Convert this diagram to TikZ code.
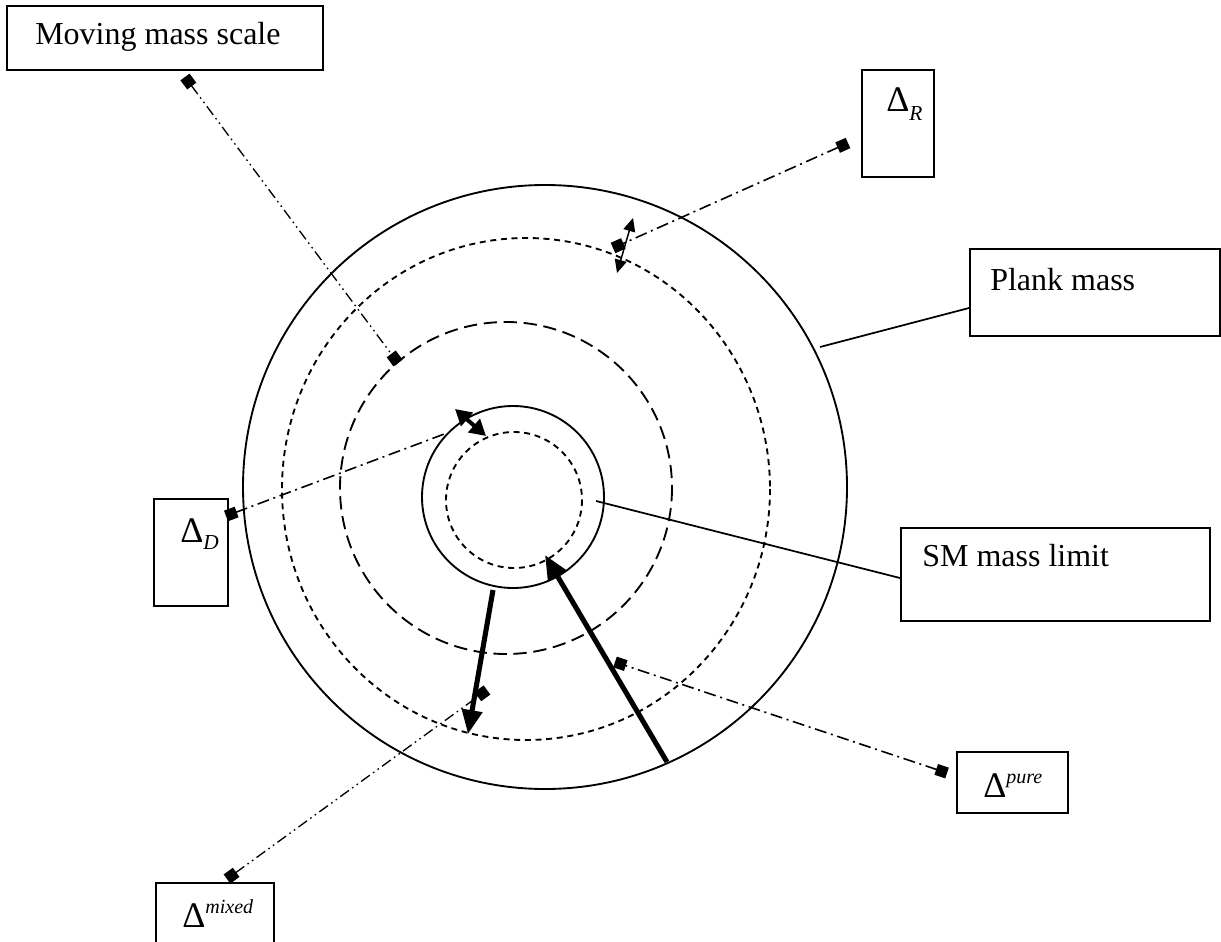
\documentclass[tikz,border=0pt]{standalone}
\usepackage{fontspec}
\setmainfont{Liberation Serif}
\usetikzlibrary{arrows.meta}
\begin{document}
\begin{tikzpicture}[x=0.75pt,y=-0.75pt,
  box/.style={draw,line width=1.5pt,inner sep=0pt,anchor=north west},
  lbl/.style={anchor=base west,inner sep=0pt,font=\fontsize{24}{28}\selectfont},
  ring/.style={line width=1.4pt},
  shortdash/.style={ring,dash pattern=on 4.5pt off 3.5pt},
  longdash/.style={ring,dash pattern=on 10pt off 5pt},
  dashdot/.style={line width=1.2pt,dash pattern=on 9pt off 3.5pt on 1.5pt off 3.5pt},
  dashdotdot/.style={line width=1pt,dash pattern=on 8pt off 3pt on 1.2pt off 3pt on 1.2pt off 3pt},
  sqtip/.tip={Square[length=8.5pt,width=8.5pt]},
  thin arrow/.style={line width=1.1pt,{Triangle[length=10pt,width=9pt]}-{Triangle[length=10pt,width=9pt]}},
  thick arrow/.style={line width=3.8pt,-{Triangle[length=18pt,width=15pt]}},
  leader/.style={line width=1.3pt},
  delta/.style={font=\fontsize{27}{30}\selectfont}]
\clip (0,0) rectangle (1221,942);

% circles
\coordinate (cP) at (545,487);
\coordinate (cO) at (526,489);
\coordinate (cL) at (506,488);
\coordinate (cS) at (513,497);
\coordinate (cI) at (514,500);
\draw[ring] (cP) circle[radius=302];
\draw[shortdash] (cO) circle[x radius=244,y radius=251];
\draw[longdash] (cL) circle[radius=166];
\draw[ring] (cS) circle[radius=91];
\draw[shortdash] (cI) circle[radius=68];

% boxes
\node[box,minimum width=237pt,minimum height=48pt] (bMove) at (6,5) {};
\node[box,minimum width=54pt,minimum height=80.25pt] (bR) at (861,69) {};
\node[box,minimum width=187.5pt,minimum height=65.25pt] (bPlank) at (969,248) {};
\node[box,minimum width=231.75pt,minimum height=69.75pt] (bSM) at (900,527) {};
\node[box,minimum width=55.5pt,minimum height=80.25pt] (bD) at (153,498) {};
\node[box,minimum width=83.25pt,minimum height=45.75pt] (bPure) at (956,751) {};
\node[box,minimum width=88.5pt,minimum height=80pt] (bMixed) at (155,882) {};

% texts
\node[lbl] (tMove) at (35,45) {Moving mass scale};
\node[lbl] (tPlank) at (990,290) {Plank mass};
\node[lbl] (tSM) at (922,566) {SM mass limit};
\node[lbl,delta] (tR) at (886,112) {Δ\raisebox{-6.5pt}{\fontsize{16}{17}\selectfont\itshape R}};
\node[lbl,delta] (tD) at (180,542) {Δ\raisebox{-5.5pt}{\fontsize{16}{17}\selectfont\itshape D}};
\node[lbl,delta] (tPure) at (983,797) {Δ\raisebox{10pt}{\fontsize{15}{16}\selectfont\itshape pure}};
\node[lbl,delta] (tMixed) at (182,927) {Δ\raisebox{10.5pt}{\fontsize{15}{16}\selectfont\itshape mixed}};

% marker points
\coordinate (mMove1) at (185,77);
\coordinate (mMove2) at (398,363);
\coordinate (mR1) at (848,143);
\coordinate (mR2) at (613,248);
\coordinate (mD1) at (226,516);
\coordinate (mD2) at (447,433);
\coordinate (mPure1) at (947,773);
\coordinate (mPure2) at (615,662);
\coordinate (mMix1) at (227,879);
\coordinate (mMix2) at (487,690);
\coordinate (pPlank) at (820,347);
\coordinate (pPlankBox) at (969,308);
\coordinate (pSM) at (596,501);
\coordinate (pSMBox) at (900,578);

% width arrows
\coordinate (aR1) at (633,218);
\coordinate (aR2) at (617,273);
\coordinate (aD1) at (455,409);
\coordinate (aD2) at (486,436);
\coordinate (aDown1) at (493,590);
\coordinate (aDown2) at (468,734);
\coordinate (aUp1) at (667,762);
\coordinate (aUp2) at (545,555);

\draw[thin arrow] (aR1) -- (aR2);
\draw[line width=3pt,{Triangle[length=12pt,width=13pt]}-{Triangle[length=12pt,width=13pt]}] (aD1) -- (aD2);
\draw[thick arrow] (aDown1) -- (aDown2);
\draw[thick arrow] (aUp1) -- (aUp2);

% leaders
\draw[dashdotdot,sqtip-sqtip] (mMove1) -- (mMove2);
\draw[dashdot,sqtip-sqtip] (mR1) -- (mR2);
\draw[dashdot,sqtip-] (mD1) -- (mD2);
\draw[dashdot,sqtip-sqtip] (mPure1) -- (mPure2);
\draw[dashdotdot,sqtip-sqtip] (mMix1) -- (mMix2);
\draw[leader] (pPlank) -- (pPlankBox);
\draw[leader] (pSM) -- (pSMBox);
\end{tikzpicture}
\end{document}
